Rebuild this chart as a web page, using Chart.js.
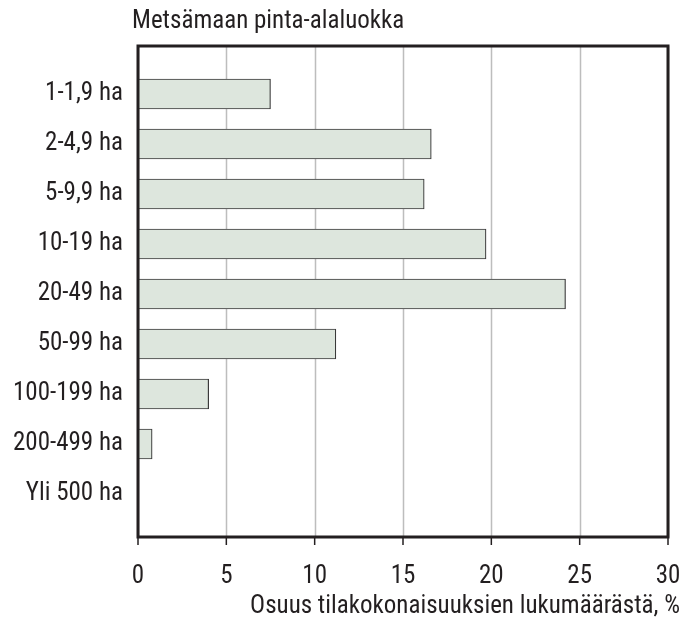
<!DOCTYPE html>
<html>
<head>
<meta charset="utf-8">
<script src="https://cdn.jsdelivr.net/npm/chart.js@4"></script>
<style>
  html, body { margin: 0; padding: 0; background: #fff; }
  #wrap { width: 686px; height: 620px; }
</style>
</head>
<body>
<div id="wrap"><canvas id="chart" width="686" height="620"></canvas></div>
<script>
// Metsämaan pinta-alaluokat ja osuudet
const categories = ['1-1,9 ha', '2-4,9 ha', '5-9,9 ha', '10-19 ha', '20-49 ha', '50-99 ha', '100-199 ha', '200-499 ha', 'Yli 500 ha'];
const shares = [7.5, 16.6, 16.2, 19.7, 24.2, 11.2, 4.0, 0.8, 0];
const xTicks = [0, 5, 10, 15, 20, 25, 30];
const yTitle = 'Metsämaan pinta-alaluokka';
const xTitle = 'Osuus tilakokonaisuuksien lukumäärästä, %';

const FONT = "'Liberation Sans Narrow', 'Arial Narrow', 'Roboto Condensed', 'Liberation Sans', sans-serif";
const INK = '#231f20';
const SIZE = 25;

// kehys, ruudukko ja otsikot
const framePlugin = {
    id: 'frame',
    beforeDatasetsDraw(chart) {
        const ctx = chart.ctx;
        const x = chart.scales.x;
        const top = 46, bottom = 537;
        ctx.save();
        ctx.strokeStyle = '#bdbdbd';
        ctx.lineWidth = 1.5;
        xTicks.forEach(function(v) {
            const px = Math.round(x.getPixelForValue(v)) + 0.5;
            ctx.beginPath();
            ctx.moveTo(px, top);
            ctx.lineTo(px, bottom);
            ctx.stroke();
        });
        ctx.restore();
    },
    afterDatasetsDraw(chart) {
        const ctx = chart.ctx;
        const x = chart.scales.x;
        const left = x.getPixelForValue(0), right = x.getPixelForValue(30);
        const top = 46, bottom = 537;
        ctx.save();
        ctx.strokeStyle = INK;
        ctx.lineWidth = 3;
        ctx.strokeRect(left, top, right - left, bottom - top);
        ctx.lineWidth = 1.5;
        xTicks.forEach(function(v) {
            const px = x.getPixelForValue(v);
            ctx.beginPath();
            ctx.moveTo(px, bottom);
            ctx.lineTo(px, bottom + 8);
            ctx.stroke();
        });
        ctx.fillStyle = INK;
        ctx.font = SIZE + 'px ' + FONT;
        ctx.textBaseline = 'middle';
        ctx.textAlign = 'left';
        ctx.fillText(yTitle, 132, 22);
        ctx.textAlign = 'right';
        ctx.fillText(xTitle, 680, 607);
        ctx.restore();
    }
};

new Chart(document.getElementById('chart'), {
    type: 'bar',
    data: {
        labels: categories,
        datasets: [{
            data: shares,
            backgroundColor: '#dde6dd',
            borderColor: '#3a3a3a',
            borderWidth: 1.2,
            borderSkipped: false,
            barThickness: 30
        }]
    },
    options: {
        indexAxis: 'y',
        responsive: false,
        animation: false,
        layout: { padding: { top: 69, right: 18, left: 0, bottom: 0 } },
        plugins: {
            legend: { display: false },
            tooltip: { enabled: false }
        },
        scales: {
            x: {
                min: 0,
                max: 30,
                afterBuildTicks: function(scale) {
                    scale.ticks = xTicks.map(function(v) { return { value: v }; });
                },
                afterFit: function(scale) {
                    scale.height = 101;
                    scale.paddingLeft = 0;
                    scale.paddingRight = 0;
                },
                grid: { display: false, drawTicks: false },
                border: { display: false },
                ticks: {
                    padding: 43,
                    maxRotation: 0,
                    color: INK,
                    font: { family: FONT, size: SIZE }
                }
            },
            y: {
                afterFit: function(scale) {
                    scale.width = 138;
                    scale.paddingTop = 0;
                    scale.paddingBottom = 0;
                },
                grid: { display: false, drawTicks: false },
                border: { display: false },
                ticks: {
                    padding: 15,
                    color: INK,
                    font: { family: FONT, size: SIZE }
                }
            }
        }
    },
    plugins: [framePlugin]
});
</script>
</body>
</html>
